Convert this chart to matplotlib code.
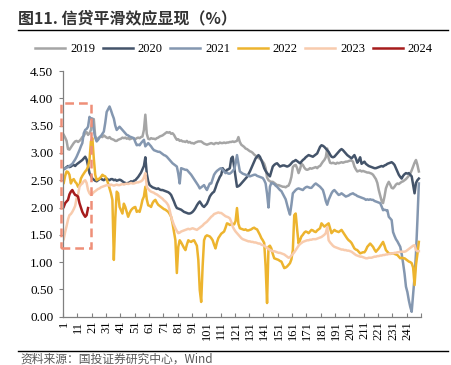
import matplotlib
matplotlib.use('Agg')
import matplotlib.pyplot as plt
from matplotlib.patches import Rectangle
from matplotlib.lines import Line2D
import numpy as np

plt.rcParams['font.family'] = ['Liberation Serif', 'Noto Sans CJK SC']

# ---------------------------------------------------------------------------
# data, one value per trading day
# ---------------------------------------------------------------------------
years = ['2019', '2020', '2021', '2022', '2023', '2024']
colors = ['#A5A5A5', '#44546A', '#8497B0', '#EDB42E', '#F8CBAD', '#A61C1C']

y2019 = [
    3.33, 3.28, 3.22, 3.07, 3.06, 3.10, 3.14, 3.18, 3.21, 3.22,
    3.20, 3.22, 3.25, 3.29, 3.31, 3.36, 3.38, 3.33, 3.36, 3.42,
    3.58, 3.62, 3.30, 3.27, 3.25, 3.28, 3.30, 3.29, 3.32, 3.30,
    3.28, 3.27, 3.29, 3.26, 3.25, 3.24, 3.22, 3.22, 3.24, 3.25,
    3.26, 3.28, 3.27, 3.28, 3.26, 3.27, 3.25, 3.26, 3.27, 3.26,
    3.25, 3.27, 3.28, 3.27, 3.29, 3.30, 3.42, 3.70, 3.35, 3.26,
    3.25, 3.27, 3.26, 3.26, 3.25, 3.27, 3.28, 3.30, 3.31, 3.32,
    3.34, 3.36, 3.38, 3.37, 3.38, 3.35, 3.36, 3.33, 3.28, 3.24,
    3.25, 3.22, 3.23, 3.21, 3.21, 3.20, 3.22, 3.19, 3.20, 3.18,
    3.18, 3.17, 3.19, 3.20, 3.21, 3.21, 3.21, 3.19, 3.17, 3.16,
    3.15, 3.16, 3.17, 3.18, 3.17, 3.16, 3.18, 3.18, 3.17, 3.19,
    3.18, 3.18, 3.19, 3.18, 3.19, 3.19, 3.20, 3.20, 3.21, 3.20,
    3.21, 3.22, 3.29, 3.20, 3.15, 3.13, 3.11, 3.08, 3.07, 3.05,
    3.03, 3.02, 3.00, 2.97, 2.95, 2.93, 2.91, 2.89, 2.87, 2.84,
    2.80, 2.72, 2.55, 2.50, 2.48, 2.47, 2.47, 2.45, 2.43, 2.41,
    2.41, 2.40, 2.39, 2.38, 2.38, 2.37, 2.39, 2.40, 2.46, 2.56,
    2.74, 2.77, 2.78, 2.72, 2.63, 2.70, 2.80, 2.78, 2.73, 2.70,
    2.69, 2.70, 2.72, 2.71, 2.72, 2.73, 2.74, 2.72, 2.75, 2.76,
    2.80, 2.84, 2.87, 2.92, 3.08, 2.90, 2.82, 2.81, 2.82, 2.81,
    2.80, 2.82, 2.81, 2.82, 2.83, 2.82, 2.83, 2.84, 2.84, 2.85,
    2.86, 2.86, 2.84, 2.75, 2.70, 2.66, 2.67, 2.68, 2.66, 2.67,
    2.66, 2.65, 2.64, 2.64, 2.63, 2.62, 2.60, 2.56, 2.52, 2.45,
    2.32, 2.22, 2.12, 2.08, 2.20, 2.35, 2.42, 2.47, 2.42, 2.36,
    2.35, 2.38, 2.42, 2.44, 2.43, 2.45, 2.47, 2.48, 2.50, 2.52,
    2.55, 2.58, 2.62, 2.68, 2.75, 2.82, 2.87, 2.78, 2.66,
]

y2020 = [
    2.70, 2.72, 2.74, 2.76, 2.74, 2.75, 2.77, 2.78, 2.76, 2.79,
    2.81, 2.83, 2.85, 2.87, 2.90, 2.93, 2.88, 2.76, 2.63, 2.58,
    2.53, 2.51, 2.49, 2.48, 2.50, 2.52, 2.53, 2.51, 2.50, 2.52,
    2.53, 2.51, 2.50, 2.52, 2.52, 2.50, 2.51, 2.49, 2.50, 2.51,
    2.50, 2.48, 2.46, 2.45, 2.44, 2.45, 2.46, 2.48, 2.47, 2.49,
    2.50, 2.53, 2.56, 2.60, 2.64, 2.70, 2.76, 2.92, 2.62, 2.48,
    2.41, 2.39, 2.37, 2.36, 2.35, 2.34, 2.35, 2.33, 2.32, 2.32,
    2.31, 2.30, 2.29, 2.28, 2.26, 2.23, 2.17, 2.11, 2.04, 1.99,
    1.98, 1.97, 1.96, 1.94, 1.92, 1.91, 1.90, 1.89, 1.89, 1.90,
    1.92, 1.95, 1.99, 2.04, 2.08, 2.11, 2.07, 2.03, 2.01, 2.04,
    2.07, 2.13, 2.20, 2.24, 2.27, 2.29, 2.36, 2.44, 2.50, 2.56,
    2.60, 2.72, 2.68, 2.65, 2.69, 2.70, 2.72, 2.90, 2.93, 2.74,
    2.56, 2.38, 2.39, 2.41, 2.44, 2.47, 2.50, 2.53, 2.56, 2.61,
    2.66, 2.72, 2.78, 2.84, 2.90, 2.93, 2.96, 2.93, 2.87, 2.80,
    2.72, 2.67, 2.63, 2.60, 2.57, 2.66, 2.75, 2.78, 2.80, 2.81,
    2.78, 2.75, 2.76, 2.77, 2.77, 2.76, 2.75, 2.76, 2.78, 2.81,
    2.84, 2.85, 2.87, 2.85, 2.83, 2.81, 2.84, 2.87, 2.89, 2.92,
    2.94, 2.96, 2.95, 2.94, 2.93, 2.95, 2.97, 2.99, 3.05, 3.11,
    3.14, 3.13, 3.11, 3.08, 3.05, 3.02, 2.97, 2.93, 2.92, 2.93,
    2.96, 2.99, 3.02, 3.05, 3.07, 3.05, 3.02, 2.99, 2.96, 2.94,
    2.92, 2.90, 2.93, 2.96, 2.90, 2.82, 2.86, 2.92, 2.80, 2.82,
    2.84, 2.80, 2.78, 2.76, 2.75, 2.74, 2.73, 2.72, 2.72, 2.73,
    2.74, 2.75, 2.76, 2.75, 2.77, 2.78, 2.80, 2.81, 2.82, 2.83,
    2.81, 2.78, 2.72, 2.66, 2.60, 2.56, 2.53, 2.58, 2.61, 2.63,
    2.62, 2.63, 2.60, 2.57, 2.41, 2.26, 2.45, 2.50, 2.53,
]

y2021 = [
    2.72, 2.71, 2.73, 2.74, 2.76, 2.78, 2.80, 2.84, 2.88, 2.93,
    2.99, 3.05, 3.12, 3.18, 3.36, 3.42, 3.44, 3.48, 3.66, 3.62,
    3.63, 3.42, 3.28, 3.21, 3.24, 3.29, 3.31, 3.35, 3.39, 3.55,
    3.75, 3.80, 3.85, 3.78, 3.70, 3.63, 3.50, 3.42, 3.45, 3.48,
    3.45, 3.42, 3.39, 3.36, 3.33, 3.32, 3.30, 3.29, 3.28, 3.27,
    3.20, 3.14, 3.15, 3.14, 3.18, 3.21, 3.24, 3.12, 3.15, 3.18,
    3.15, 3.12, 3.08, 3.05, 3.04, 3.03, 3.02, 3.02, 3.00, 2.98,
    2.96, 2.95, 2.93, 2.90, 2.87, 2.84, 2.81, 2.79, 2.77, 2.75,
    2.62, 2.44, 2.72, 2.71, 2.70, 2.69, 2.69, 2.66, 2.63, 2.60,
    2.56, 2.52, 2.48, 2.44, 2.40, 2.35, 2.37, 2.39, 2.41, 2.36,
    2.32, 2.38, 2.44, 2.44, 2.52, 2.60, 2.64, 2.67, 2.69, 2.71,
    2.72, 2.69, 2.66, 2.63, 2.64, 2.62, 2.62, 2.64, 2.67, 2.70,
    2.80, 2.96, 2.81, 2.66, 2.64, 2.62, 2.61, 2.60, 2.59, 2.58,
    2.57, 2.58, 2.59, 2.60, 2.60, 2.58, 2.57, 2.56, 2.55, 2.54,
    2.50, 2.44, 2.25, 2.00, 2.38, 2.45, 2.44, 2.43, 2.40, 2.38,
    2.35, 2.32, 2.30, 2.25, 2.20, 2.15, 2.05, 1.95, 1.87, 2.05,
    2.26, 2.29, 2.32, 2.34, 2.35, 2.34, 2.33, 2.32, 2.35, 2.37,
    2.38, 2.37, 2.36, 2.36, 2.39, 2.42, 2.44, 2.42, 2.40, 2.38,
    2.35, 2.32, 2.23, 2.12, 2.05, 2.14, 2.20, 2.26, 2.30, 2.32,
    2.29, 2.26, 2.23, 2.24, 2.26, 2.24, 2.22, 2.20, 2.21, 2.22,
    2.24, 2.25, 2.26, 2.24, 2.23, 2.21, 2.20, 2.19, 2.18, 2.17,
    2.16, 2.14, 2.15, 2.14, 2.15, 2.14, 2.14, 2.12, 2.11, 2.10,
    2.09, 2.08, 2.02, 1.95, 1.96, 1.95, 1.95, 1.83, 1.80, 1.77,
    1.55, 1.48, 1.42, 1.38, 1.33, 1.28, 1.15, 0.98, 0.79, 0.55,
    0.45, 0.30, 0.18, 0.09, 0.40, 0.73, 1.16, 1.77, 2.44,
]

y2022 = [
    2.45, 2.58, 2.66, 2.65, 2.60, 2.44, 2.50, 2.52, 2.47, 2.44,
    2.38, 2.40, 2.53, 2.58, 2.62, 2.66, 2.69, 2.75, 2.87, 3.21,
    3.27, 2.90, 2.60, 2.50, 2.52, 2.53, 2.56, 2.60, 2.58, 2.57,
    2.52, 2.44, 2.35, 2.26, 2.14, 1.04, 1.80, 2.29, 2.26, 2.01,
    1.95, 1.89, 2.07, 2.01, 1.92, 1.83, 1.90, 1.95, 1.98, 2.00,
    2.01, 1.92, 1.94, 1.92, 2.02, 2.14, 2.20, 2.38, 2.15, 2.04,
    2.03, 2.01, 2.08, 2.12, 2.14, 2.09, 2.05, 2.03, 2.01, 1.99,
    1.97, 1.96, 1.94, 1.92, 1.88, 1.83, 1.71, 1.55, 1.40, 0.80,
    1.28, 1.40, 1.36, 1.31, 1.26, 1.22, 1.32, 1.40, 1.38, 1.37,
    1.39, 1.40, 1.35, 1.30, 1.04, 0.49, 0.27, 0.92, 1.40, 1.47,
    1.49, 1.48, 1.47, 1.44, 1.40, 1.32, 1.25, 1.36, 1.44, 1.48,
    1.52, 1.54, 1.56, 1.63, 1.71, 1.70, 1.68, 1.69, 1.70, 1.69,
    1.75, 1.99, 1.70, 1.62, 1.61, 1.60, 1.59, 1.60, 1.58, 1.58,
    1.59, 1.60, 1.62, 1.63, 1.61, 1.60, 1.55, 1.50, 1.44, 1.40,
    1.35, 0.92, 0.25, 1.28, 1.30, 1.25, 1.15, 1.07, 1.06, 1.05,
    1.04, 1.02, 1.01, 0.95, 0.89, 0.90, 0.92, 0.95, 0.98, 1.05,
    1.22, 1.86, 1.89, 1.60, 1.34, 1.40, 1.47, 1.50, 1.54, 1.56,
    1.55, 1.53, 1.56, 1.59, 1.58, 1.56, 1.55, 1.58, 1.60, 1.62,
    1.71, 1.68, 1.65, 1.67, 1.69, 1.71, 1.62, 1.53, 1.56, 1.59,
    1.57, 1.56, 1.55, 1.57, 1.59, 1.55, 1.51, 1.47, 1.43, 1.40,
    1.38, 1.35, 1.30, 1.25, 1.23, 1.22, 1.19, 1.16, 1.17, 1.18,
    1.18, 1.22, 1.28, 1.31, 1.34, 1.31, 1.28, 1.23, 1.19, 1.22,
    1.25, 1.29, 1.33, 1.37, 1.30, 1.22, 1.19, 1.16, 1.15, 1.16,
    1.16, 1.15, 1.14, 1.13, 1.10, 1.07, 1.08, 1.07, 1.07, 1.05,
    1.03, 1.01, 1.00, 0.98, 0.90, 0.58, 0.95, 1.15, 1.37,
]

y2023 = [
    1.42, 1.55, 1.66, 1.78, 1.86, 1.88, 1.92, 1.97, 2.03, 2.17,
    2.23, 2.38, 2.42, 2.44, 2.48, 2.50, 2.45, 2.32, 2.26, 2.23,
    2.25, 2.28, 2.30, 2.32, 2.34, 2.35, 2.37, 2.38, 2.39, 2.40,
    2.41, 2.41, 2.40, 2.42, 2.41, 2.40, 2.41, 2.42, 2.41, 2.41,
    2.42, 2.43, 2.42, 2.43, 2.44, 2.43, 2.44, 2.45, 2.44, 2.44,
    2.45, 2.46, 2.46, 2.47, 2.48, 2.50, 2.55, 2.63, 2.38, 2.34,
    2.31, 2.29, 2.28, 2.27, 2.25, 2.24, 2.22, 2.20, 2.18, 2.16,
    2.13, 2.11, 2.08, 2.04, 1.95, 1.83, 1.75, 1.68, 1.62, 1.57,
    1.53, 1.54, 1.56, 1.57, 1.58, 1.59, 1.60, 1.61, 1.60, 1.61,
    1.62, 1.61, 1.60, 1.59, 1.61, 1.63, 1.65, 1.67, 1.70, 1.72,
    1.74, 1.77, 1.80, 1.83, 1.85, 1.88, 1.89, 1.90, 1.91, 1.90,
    1.90, 1.88, 1.86, 1.84, 1.83, 1.82, 1.80, 1.74, 1.65, 1.60,
    1.56, 1.53, 1.50, 1.47, 1.44, 1.42, 1.41, 1.40, 1.39, 1.38,
    1.38, 1.37, 1.37, 1.36, 1.36, 1.35, 1.34, 1.34, 1.32, 1.31,
    1.30, 1.28, 1.26, 1.24, 1.22, 1.21, 1.20, 1.20, 1.19, 1.18,
    1.17, 1.17, 1.16, 1.15, 1.14, 1.12, 1.10, 1.08, 1.09, 1.12,
    1.15, 1.18, 1.22, 1.26, 1.30, 1.33, 1.35, 1.37, 1.38, 1.39,
    1.40, 1.40, 1.41, 1.41, 1.42, 1.42, 1.42, 1.43, 1.44, 1.45,
    1.46, 1.48, 1.50, 1.53, 1.64, 1.40, 1.36, 1.33, 1.30, 1.28,
    1.27, 1.26, 1.25, 1.24, 1.23, 1.23, 1.22, 1.22, 1.21, 1.21,
    1.20, 1.19, 1.17, 1.15, 1.13, 1.12, 1.11, 1.10, 1.10, 1.09,
    1.08, 1.07, 1.07, 1.08, 1.08, 1.08, 1.09, 1.10, 1.10, 1.11,
    1.11, 1.12, 1.12, 1.13, 1.13, 1.14, 1.14, 1.15, 1.15, 1.16,
    1.16, 1.17, 1.17, 1.18, 1.18, 1.19, 1.19, 1.19, 1.19, 1.20,
    1.22, 1.24, 1.26, 1.28, 1.30, 1.31, 1.22, 1.20, 1.20,
]

y2024 = [
    2.01, 2.08, 2.11, 2.14, 2.24, 2.29, 2.32, 2.27, 2.23, 2.22,
    2.20, 2.08, 2.00, 1.92, 1.87, 1.83, 1.86, 1.99,
]

series = [y2019, y2020, y2021, y2022, y2023, y2024]

x_ticks = list(range(1, 250, 10))
y_ticks = [0.0, 0.5, 1.0, 1.5, 2.0, 2.5, 3.0, 3.5, 4.0, 4.5]

# highlighted window (dashed box), in data units
box_x = (-1.1, 19.8)
box_y = (1.25, 3.91)

# ---------------------------------------------------------------------------
# figure
# ---------------------------------------------------------------------------
fig = plt.figure(figsize=(4.51, 3.65), dpi=100)
ax = fig.add_axes([63 / 451, 1 - 316.7 / 365, (421 - 63) / 451, (316.7 - 71) / 365])

for vals, c, lab in zip(series, colors, years):
    xs = np.arange(1, len(vals) + 1)
    ax.plot(xs, vals, color=c, lw=1.8, label=lab, solid_joinstyle='round')

rect = Rectangle((box_x[0], box_y[0]), box_x[1] - box_x[0], box_y[1] - box_y[0],
                 fill=False, edgecolor='#EF8F78', lw=1.8,
                 linestyle=(0, (3.5, 2.0)), clip_on=False, zorder=5)
ax.add_patch(rect)

ax.set_xlim(0.5, 250.5)
ax.set_ylim(0, 4.5)

ax.set_yticks(y_ticks)
ax.set_yticklabels([f'{v:.2f}' for v in y_ticks], fontsize=9.5)
ax.set_xticks(x_ticks)
ax.set_xticklabels([str(t) for t in x_ticks], rotation=90, fontsize=9)
ax.set_xticks(np.arange(0.5, 251, 10), minor=True)

ax.tick_params(axis='y', direction='out', length=3, width=0.8, color='#808080', pad=4)
ax.tick_params(axis='x', which='major', length=0, pad=3)
ax.tick_params(axis='x', which='minor', direction='in', length=3, width=0.8, color='#808080')

for s in ['top', 'right']:
    ax.spines[s].set_visible(False)
for s in ['left', 'bottom']:
    ax.spines[s].set_color('#808080')
    ax.spines[s].set_linewidth(0.9)

# title + rules
fig.text(18 / 451, 1 - 18 / 365, '图11. 信贷平滑效应显现（%）', fontsize=11.5, fontweight='bold',
         family=['Noto Sans CJK SC', 'DejaVu Sans'], color='#333333', va='center', ha='left')
fig.add_artist(Line2D([18 / 451, 448 / 451], [1 - 29.5 / 365, 1 - 29.5 / 365],
                      color='black', lw=1.0, transform=fig.transFigure))
fig.add_artist(Line2D([18 / 451, 448 / 451], [1 - 350.7 / 365, 1 - 350.7 / 365],
                      color='black', lw=1.0, transform=fig.transFigure))
fig.text(20 / 451, 1 - 359 / 365, '资料来源：国投证券研究中心，Wind', fontsize=8.5,
         family=['Noto Sans CJK SC', 'DejaVu Sans'], color='#595959', style='italic',
         va='center', ha='left')

fig.legend(loc='center', bbox_to_anchor=(234 / 451, 1 - 49 / 365), ncol=6, frameon=False,
           fontsize=9, handlelength=2.4, handletextpad=0.4, columnspacing=0.6,
           borderaxespad=0, borderpad=0)

fig.savefig('out.png', dpi=100)
